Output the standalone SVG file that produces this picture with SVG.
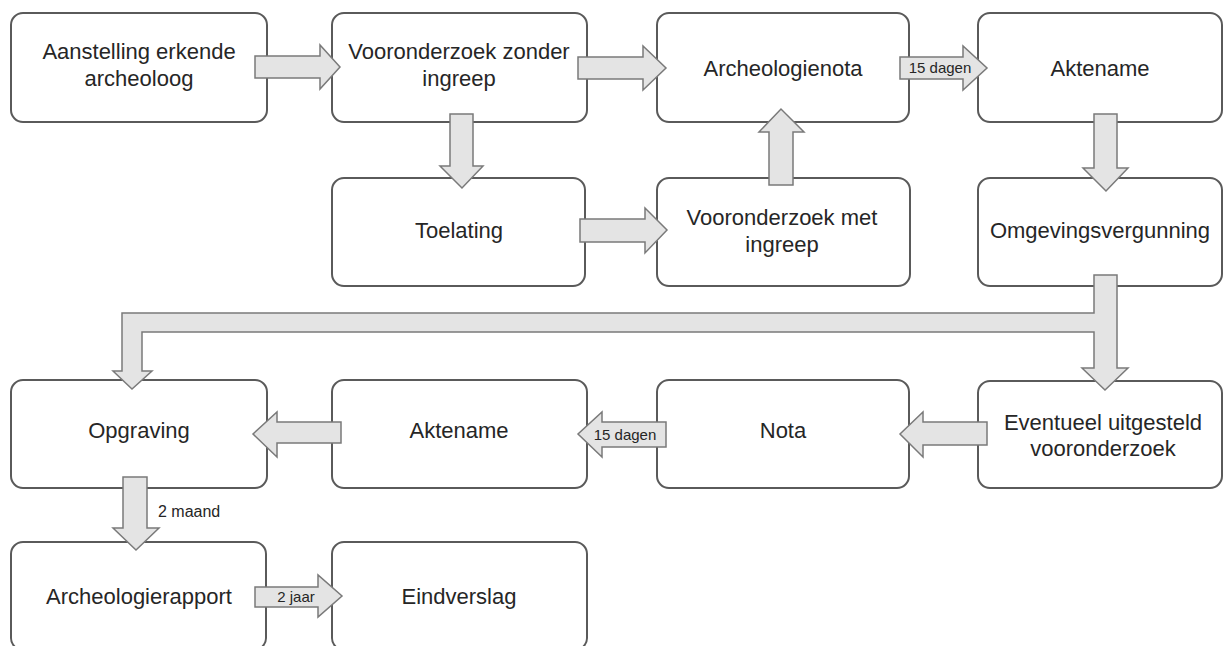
<svg xmlns="http://www.w3.org/2000/svg" width="1225" height="646" viewBox="0 0 1225 646">
<style>
.box{fill:#fff;stroke:#5a5a5a;stroke-width:2}
.t{font-family:"Liberation Sans",Arial,sans-serif;font-size:22px;fill:#262626;text-anchor:middle}
.arr{fill:#e4e4e4;stroke:#7a7a7a;stroke-width:1.5;stroke-linejoin:miter}
.lbl{font-family:"Liberation Sans",Arial,sans-serif;font-size:15px;fill:#262626;text-anchor:middle}
</style>
<rect width="1225" height="646" fill="#fff"/>
<g id="n1"><rect class="box" x="11" y="13" width="256" height="109" rx="12"/><text class="t" x="139" y="59">Aanstelling erkende</text><text class="t" x="139" y="86">archeoloog</text></g>
<g id="n2"><rect class="box" x="332" y="13" width="255" height="109" rx="12"/><text class="t" x="459" y="59">Vooronderzoek zonder</text><text class="t" x="459" y="86">ingreep</text></g>
<g id="n3"><rect class="box" x="657" y="13" width="252" height="109" rx="12"/><text class="t" x="783" y="76">Archeologienota</text></g>
<g id="n4"><rect class="box" x="978" y="13" width="244" height="109" rx="12"/><text class="t" x="1100" y="76">Aktename</text></g>
<g id="n5"><rect class="box" x="332" y="178" width="253" height="108" rx="12"/><text class="t" x="459" y="238">Toelating</text></g>
<g id="n6"><rect class="box" x="657" y="178" width="253" height="108" rx="12"/><text class="t" x="782" y="225">Vooronderzoek met</text><text class="t" x="782" y="252">ingreep</text></g>
<g id="n7"><rect class="box" x="978" y="178" width="244" height="108" rx="12"/><text class="t" x="1100" y="238">Omgevingsvergunning</text></g>
<g id="n8"><rect class="box" x="11" y="380" width="256" height="108" rx="12"/><text class="t" x="139" y="438">Opgraving</text></g>
<g id="n9"><rect class="box" x="332" y="380" width="255" height="108" rx="12"/><text class="t" x="459" y="438">Aktename</text></g>
<g id="n10"><rect class="box" x="657" y="380" width="252" height="108" rx="12"/><text class="t" x="783" y="438">Nota</text></g>
<g id="n11"><rect class="box" x="978" y="381" width="244" height="107" rx="12"/><text class="t" x="1103" y="430">Eventueel uitgesteld</text><text class="t" x="1103" y="456">vooronderzoek</text></g>
<g id="n12"><rect class="box" x="11" y="542" width="255" height="108" rx="12"/><text class="t" x="139" y="604">Archeologierapport</text></g>
<g id="n13"><rect class="box" x="332" y="542" width="255" height="108" rx="12"/><text class="t" x="459" y="604">Eindverslag</text></g>
<g id="connectors">
<path class="arr" d="M255,56 H320 V45 L340,67 L320,89 V78 H255 Z"/>
<path class="arr" d="M578,57 H643 V46 L666,68 L643,90 V79 H578 Z"/>
<path class="arr" d="M900,57 H963 V46 L987,68 L963,90 V79 H900 Z"/>
<text class="lbl" x="940" y="73">15 dagen</text>
<path class="arr" d="M450,114 H473 V166 H483 L462,188 L440,166 H450 Z"/>
<path class="arr" d="M580,219 H645 V208 L667,230 L645,253 V242 H580 Z"/>
<path class="arr" d="M769,185 V132 H759 L781,109 L804,132 H793 V185 Z"/>
<path class="arr" d="M1094,114 H1117 V168 H1128 L1106,191 L1083,168 H1094 Z"/>
<path class="arr" d="M1094,275 H1117 V368 H1128 L1105,390 L1082,368 H1094 V332 H142 V371 H152 L132,389 L113,371 H122 V313 H1094 Z"/>
<path class="arr" d="M341,422 V443 H277 V457 L253,434 L277,412 V422 Z"/>
<path class="arr" d="M666,422 V447 H602 V457 L578,434 L602,412 V422 Z"/>
<text class="lbl" x="625" y="440">15 dagen</text>
<path class="arr" d="M987,422 V445 H923 V457 L900,434 L923,412 V422 Z"/>
<path class="arr" d="M123,477 H147 V528 H159 L136,550 L113,528 H123 Z"/>
<text class="lbl" x="158" y="517" style="text-anchor:start;font-size:16px">2 maand</text>
<path class="arr" d="M255,587 H318 V575 L342,596 L318,617 V607 H255 Z"/>
<text class="lbl" x="296" y="602">2 jaar</text>
</g>
</svg>
